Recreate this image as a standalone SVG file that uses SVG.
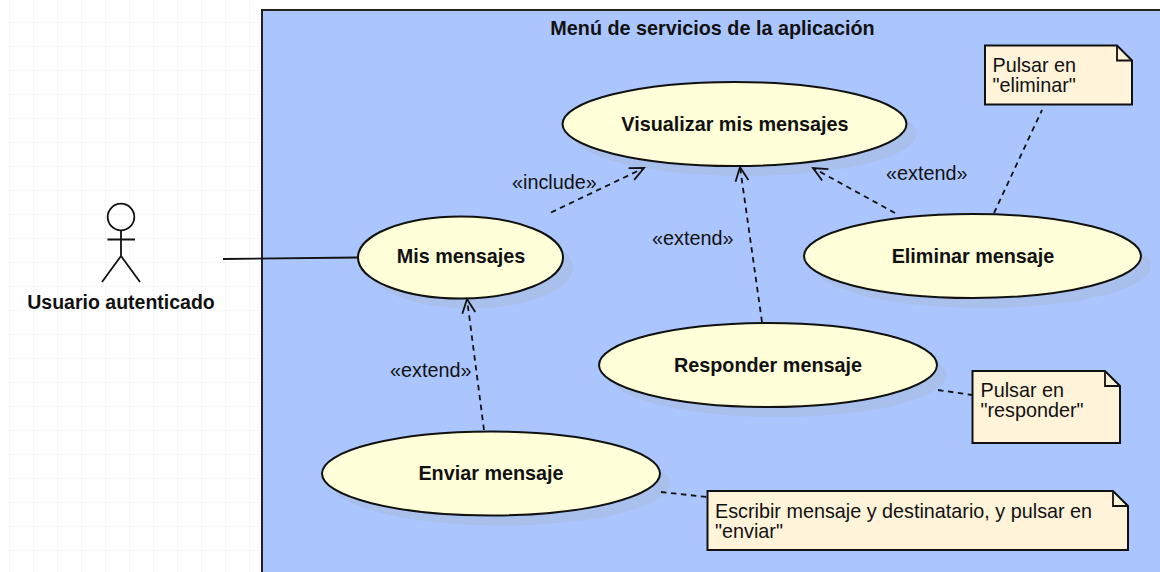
<svg xmlns="http://www.w3.org/2000/svg" width="1160" height="572" viewBox="0 0 1160 572">
<style>
text{font-family:"Liberation Sans",Arial,sans-serif;fill:#111}
.b{font-weight:bold;font-size:19.800px;text-anchor:middle}
.t{font-size:19.800px}
.u{fill:#ffffd9;stroke:#111;stroke-width:2}
.s{fill:#a9bfec}
.n{fill:#fff3d9;stroke:#111;stroke-width:2}
.f{fill:none;stroke:#111;stroke-width:1.800}
.d{fill:none;stroke:#111;stroke-width:1.800;stroke-dasharray:5.500 4.500}
.g{stroke:#f6f6f6;stroke-width:1}
</style>
<defs>
<marker id="a" markerUnits="userSpaceOnUse" markerWidth="20" markerHeight="20" refX="17" refY="9" orient="auto" viewBox="0 0 20 20"><path d="M3 2.500L17 9L3 15.500" fill="none" stroke="#111" stroke-width="1.800"/></marker>
</defs>
<rect width="1160" height="572" fill="#fff"/>
<g id="grid" class="g">
<path d="M9.500 0V572M33.500 0V572M57.500 0V572M81.500 0V572M105.500 0V572M129.500 0V572M153.500 0V572M177.500 0V572M201.500 0V572M225.500 0V572M249.500 0V572M6 22.500H262M6 46.500H262M6 70.500H262M6 94.500H262M6 118.500H262M6 142.500H262M6 166.500H262M6 190.500H262M6 214.500H262M6 238.500H262M6 262.500H262M6 286.500H262M6 310.500H262M6 334.500H262M6 358.500H262M6 382.500H262M6 406.500H262M6 430.500H262M6 454.500H262M6 478.500H262M6 502.500H262M6 526.500H262M6 550.500H262"/>
</g>
<g id="system">
<rect x="262" y="10" width="920" height="580" fill="#abc6ff" stroke="#222" stroke-width="2"/>
<text class="b" x="712.500" y="35">Menú de servicios de la aplicación</text>
</g>
<g id="actor">
<circle cx="121" cy="217" r="13.300" class="f"/>
<path class="f" d="M121 230V256M107.500 239.500H135M121 256L102 282M121 256L140 282"/>
<text class="b" x="121" y="309" style="font-size:19.500px">Usuario autenticado</text>
</g>
<g id="uc-visualizar">
<ellipse class="s" cx="744.500" cy="134" rx="172" ry="42"/>
<ellipse class="u" cx="734.500" cy="124" rx="172" ry="42"/>
<text class="b" x="735" y="131">Visualizar mis mensajes</text>
</g>
<g id="uc-mis">
<ellipse class="s" cx="470.500" cy="267.500" rx="102.500" ry="41"/>
<ellipse class="u" cx="460.500" cy="257.500" rx="102.500" ry="41"/>
<text class="b" x="461" y="263">Mis mensajes</text>
</g>
<g id="uc-eliminar">
<ellipse class="s" cx="982.500" cy="266" rx="168.500" ry="42"/>
<ellipse class="u" cx="972.500" cy="256" rx="168.500" ry="42"/>
<text class="b" x="973" y="263">Eliminar mensaje</text>
</g>
<g id="uc-responder">
<ellipse class="s" cx="778" cy="375" rx="169" ry="42"/>
<ellipse class="u" cx="768" cy="365" rx="169" ry="42"/>
<text class="b" x="768" y="372">Responder mensaje</text>
</g>
<g id="uc-enviar">
<ellipse class="s" cx="501" cy="483.500" rx="169" ry="42"/>
<ellipse class="u" cx="491" cy="473.500" rx="169" ry="42"/>
<text class="b" x="491" y="480">Enviar mensaje</text>
</g>
<g id="note-eliminar">
<path class="n" d="M985 45.500H1117L1132 60.500V104.500H985Z"/>
<path class="f" d="M1117 45.500V60.500H1132"/>
<text class="t" x="992.500" y="72">Pulsar en</text>
<text class="t" x="992.500" y="92">"eliminar"</text>
</g>
<g id="note-responder">
<path class="n" d="M972.500 371H1105L1120 386V443H972.500Z"/>
<path class="f" d="M1105 371V386H1120"/>
<text class="t" x="980.500" y="396.500">Pulsar en</text>
<text class="t" x="980.500" y="416.500">"responder"</text>
</g>
<g id="note-enviar">
<path class="n" d="M707.500 491H1113L1128 506V550H707.500Z"/>
<path class="f" d="M1113 491V506H1128"/>
<text class="t" x="715" y="517.500">Escribir mensaje y destinatario, y pulsar en</text>
<text class="t" x="715" y="537.500">"enviar"</text>
</g>
<g id="connectors">
<path class="f" d="M223 259L358 257.500"/>
<path class="d" marker-end="url(#a)" d="M551 212.500L644 168"/>
<path class="d" marker-end="url(#a)" d="M762 322L740 167"/>
<path class="d" marker-end="url(#a)" d="M895 213L813 168"/>
<path class="d" marker-end="url(#a)" d="M484 430L467 299"/>
<path class="d" d="M994 213L1042 110"/>
<path class="d" d="M938 390L972 395"/>
<path class="d" d="M661 492L707 497"/>
<text class="t" x="512" y="189">«include»</text>
<text class="t" x="886" y="180">«extend»</text>
<text class="t" x="652" y="245">«extend»</text>
<text class="t" x="390" y="377">«extend»</text>
</g>
</svg>
